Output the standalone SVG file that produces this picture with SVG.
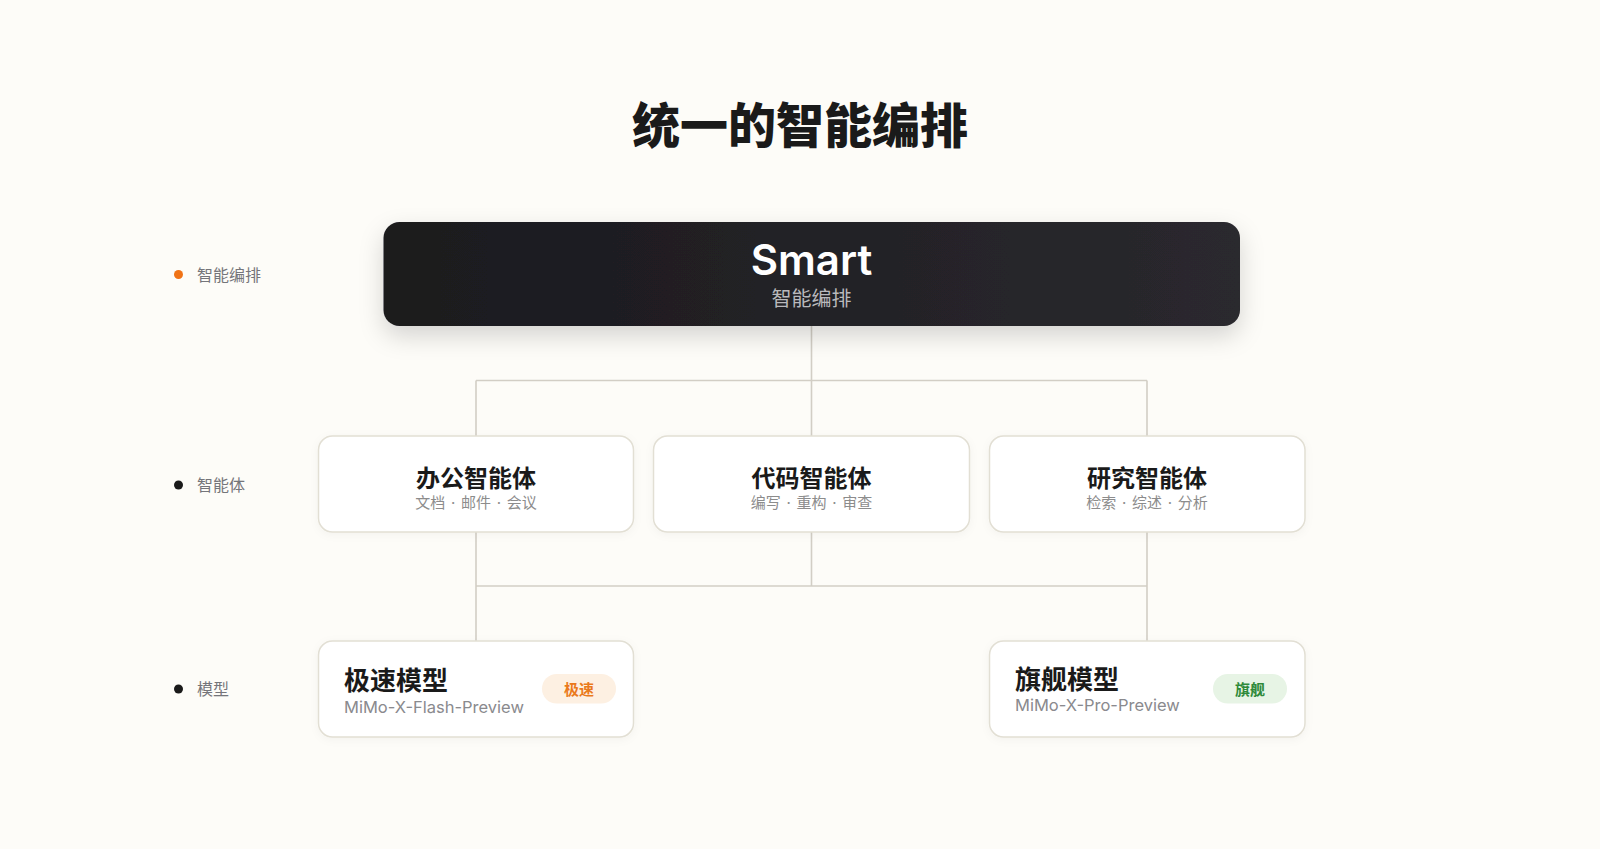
<svg xmlns="http://www.w3.org/2000/svg" width="1600" height="849" viewBox="0 0 1600 849">
  <defs>
    <linearGradient id="darkGrad" x1="0" y1="0" x2="1" y2="0">
      <stop offset="0" stop-color="#1b1a1e"/>
      <stop offset="1" stop-color="#2a292e"/>
    </linearGradient>
    <filter id="bigShadow" x="-10%" y="-30%" width="120%" height="180%">
      <feDropShadow dx="0" dy="10" stdDeviation="12" flood-color="#000" flood-opacity="0.16"/>
    </filter>
    <filter id="cardShadow" x="-10%" y="-20%" width="120%" height="150%">
      <feDropShadow dx="0" dy="2" stdDeviation="4" flood-color="#000" flood-opacity="0.04"/>
    </filter>
    <style>
      .cjk { font-family: "Noto Sans CJK SC", "Noto Sans", sans-serif; }
      .lat { font-family: Inter, "Noto Sans", "Noto Sans CJK SC", sans-serif; }
      .card { fill: #ffffff; stroke: #e2dfd4; stroke-width: 1.5; }
      .conn { fill: none; stroke: #d2cec5; stroke-width: 1.6; }
      .agentTitle { font-size: 24px; font-weight: 700; fill: #1a1a1a; text-anchor: middle; }
      .agentSub { font-size: 15px; fill: #8c8c8c; text-anchor: middle; word-spacing: 1.5px; }
      .modelTitle { font-size: 26px; font-weight: 700; fill: #1a1a1a; }
      .modelSub { font-size: 16.5px; fill: #8a8a8e; }
      .badgeText { font-size: 15px; font-weight: 700; text-anchor: middle; }
      .sideLabel { font-size: 16px; fill: #75757a; }
    </style>
  </defs>

  <rect x="0" y="0" width="1600" height="849" fill="#fdfcf8"/>

  <g id="title">
    <text x="800" y="143" text-anchor="middle" class="cjk" font-size="48" font-weight="900" fill="#1a1a1a">统一的智能编排</text>
  </g>

  <g id="side-labels">
    <g id="label-orchestration">
      <circle cx="178.5" cy="274.5" r="4.5" fill="#f07316"/>
      <text x="197" y="280.5" class="cjk sideLabel">智能编排</text>
    </g>
    <g id="label-agents">
      <circle cx="178.5" cy="485" r="4.5" fill="#1a1a1a"/>
      <text x="197" y="490.5" class="cjk sideLabel">智能体</text>
    </g>
    <g id="label-models">
      <circle cx="178.5" cy="689" r="4.5" fill="#1a1a1a"/>
      <text x="197" y="694.5" class="cjk sideLabel">模型</text>
    </g>
  </g>

  <g id="connectors">
    <path class="conn" d="M811.5 326 V380.5 M476 380.5 H1147 M476 380.5 V436 M811.5 380.5 V436 M1147 380.5 V436"/>
    <path class="conn" d="M476 532 V586 M811.5 532 V586 M1147 532 V586 M476 586 H1147 M476 586 V641 M1147 586 V641"/>
  </g>

  <g id="smart">
    <rect x="383.5" y="222" width="856.5" height="104" rx="16" fill="url(#darkGrad)" filter="url(#bigShadow)"/>
    <text x="811.5" y="275" text-anchor="middle" class="lat" font-size="42" font-weight="600" fill="#ffffff">Smart</text>
    <text x="811.5" y="305.5" text-anchor="middle" class="cjk" font-size="20" fill="#b9b9bc">智能编排</text>
  </g>

  <g id="agent-office">
    <rect class="card" x="318.5" y="436" width="315" height="96" rx="14" filter="url(#cardShadow)"/>
    <text x="476" y="486.5" class="cjk agentTitle">办公智能体</text>
    <text x="476" y="508" class="lat agentSub">文档 · 邮件 · 会议</text>
  </g>

  <g id="agent-code">
    <rect class="card" x="653.5" y="436" width="316" height="96" rx="14" filter="url(#cardShadow)"/>
    <text x="811.5" y="486.5" class="cjk agentTitle">代码智能体</text>
    <text x="811.5" y="508" class="lat agentSub">编写 · 重构 · 审查</text>
  </g>

  <g id="agent-research">
    <rect class="card" x="989.5" y="436" width="315.5" height="96" rx="14" filter="url(#cardShadow)"/>
    <text x="1147" y="486.5" class="cjk agentTitle">研究智能体</text>
    <text x="1147" y="508" class="lat agentSub">检索 · 综述 · 分析</text>
  </g>

  <g id="model-flash">
    <rect class="card" x="318.5" y="641" width="315" height="96" rx="14" filter="url(#cardShadow)"/>
    <text x="344" y="689.5" class="cjk modelTitle">极速模型</text>
    <text x="344" y="713" class="lat modelSub">MiMo-X-Flash-Preview</text>
    <rect x="542" y="674" width="74" height="29.5" rx="14.75" fill="#fdf0e2"/>
    <text x="579" y="694.5" class="cjk badgeText" fill="#ea7a1c">极速</text>
  </g>

  <g id="model-pro">
    <rect class="card" x="989.5" y="641" width="315.5" height="96" rx="14" filter="url(#cardShadow)"/>
    <text x="1015" y="688.5" class="cjk modelTitle">旗舰模型</text>
    <text x="1015" y="711" class="lat modelSub">MiMo-X-Pro-Preview</text>
    <rect x="1213" y="674" width="74" height="29.5" rx="14.75" fill="#e7f4e5"/>
    <text x="1250" y="694.5" class="cjk badgeText" fill="#2f8a3a">旗舰</text>
  </g>
</svg>
